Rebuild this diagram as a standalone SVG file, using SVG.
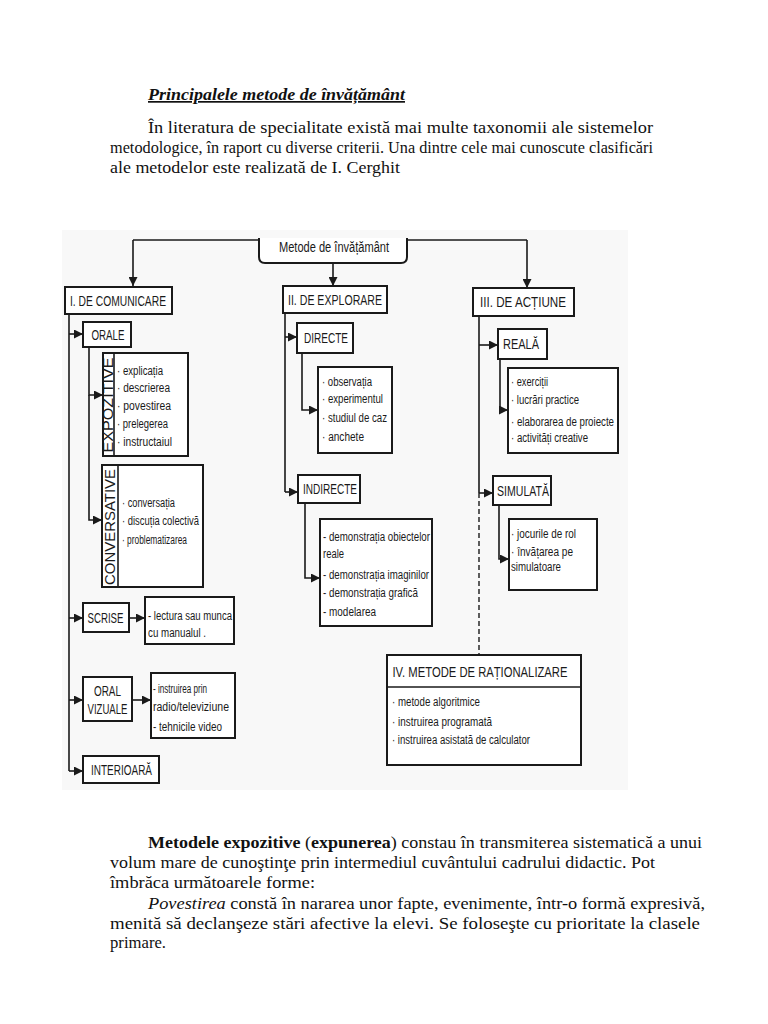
<svg xmlns="http://www.w3.org/2000/svg" width="768" height="1024" viewBox="0 0 768 1024">
<defs>
<marker id="ah" viewBox="0 0 10 10" refX="10" refY="5" markerWidth="9" markerHeight="9" markerUnits="userSpaceOnUse" orient="auto">
<path d="M0,0 L10,5 L0,10 z" fill="#1a1a1a"/>
</marker>
</defs>
<style>
.pg{font-family:"Liberation Serif","Times New Roman",serif;font-size:17px;fill:#111}
.box{fill:#fff;stroke:#1a1a1a;stroke-width:2}
.ln{fill:none;stroke:#1a1a1a;stroke-width:1.6}
.ar{fill:none;stroke:#1a1a1a;stroke-width:1.6;marker-end:url(#ah)}
.dash{fill:none;stroke:#1a1a1a;stroke-width:1.4;stroke-dasharray:5 3}
.lb{font-family:"Liberation Sans","Arial",sans-serif;font-size:14px;fill:#1a1a1a;text-anchor:middle}
.it{font-family:"Liberation Sans","Arial",sans-serif;font-size:12px;fill:#1a1a1a}
</style>
<rect width="768" height="1024" fill="#fff"/>

<g id="header-text">
<text class="pg" x="148" y="100" font-weight="bold" font-style="italic" font-size="16" text-decoration="underline" textLength="257" lengthAdjust="spacingAndGlyphs">Principalele metode de învățământ</text>
<text class="pg" x="148" y="133" textLength="505" lengthAdjust="spacingAndGlyphs">În literatura de specialitate există mai multe taxonomii ale sistemelor</text>
<text class="pg" x="110" y="153" textLength="543" lengthAdjust="spacingAndGlyphs">metodologice, în raport cu diverse criterii. Una dintre cele mai cunoscute clasificări</text>
<text class="pg" x="110" y="173" textLength="290" lengthAdjust="spacingAndGlyphs">ale metodelor este realizată de I. Cerghit</text>
</g>

<rect x="62" y="230" width="566" height="560" fill="#f8f8f8"/>

<g id="connectors">
<path class="ln" d="M133,240 H259 M407,240 H527"/>
<path class="ar" d="M133,240 V286"/>
<path class="ar" d="M333,263 V286"/>
<path class="ar" d="M527,240 V288"/>
<path class="ln" d="M69,314 V771"/>
<path class="ar" d="M69,334 H83"/>
<path class="ar" d="M69,618 H83"/>
<path class="ar" d="M69,700 H83"/>
<path class="ar" d="M69,771 H83"/>
<path class="ar" d="M89,347 V395 H103"/>
<path class="ar" d="M89,395 V520 H102"/>
<path class="ar" d="M129,618 H145"/>
<path class="ar" d="M132,700 H151"/>
<path class="ln" d="M285,313 V492"/>
<path class="ar" d="M285,337 H297"/>
<path class="ar" d="M285,492 H298"/>
<path class="ar" d="M302,353 V410 H318"/>
<path class="ar" d="M305,503 V578 H320"/>
<path class="ln" d="M479,316 V493"/>
<path class="ar" d="M479,345 H498"/>
<path class="ar" d="M479,493 H493"/>
<path class="dash" d="M479,493 V655"/>
<path class="ar" d="M500,359 V410 H508"/>
<path class="ar" d="M499,505 V559 H509"/>
</g>

<g id="n-root">
<path class="box" d="M259,238 V257 Q259,263 265,263 H401 Q407,263 407,257 V238"/>
<text class="lb" x="334" y="252" font-size="12" textLength="110" lengthAdjust="spacingAndGlyphs">Metode de învățământ</text>
</g>

<g id="n-comunicare">
<rect class="box" x="65" y="287" width="107" height="27"/>
<text class="lb" x="118" y="306" textLength="96" lengthAdjust="spacingAndGlyphs">I. DE COMUNICARE</text>
</g>
<g id="n-explorare">
<rect class="box" x="283" y="286" width="104" height="27"/>
<text class="lb" x="335" y="305" textLength="94" lengthAdjust="spacingAndGlyphs">II. DE EXPLORARE</text>
</g>
<g id="n-actiune">
<rect class="box" x="473" y="288" width="101" height="28"/>
<text class="lb" x="523" y="307" textLength="86" lengthAdjust="spacingAndGlyphs">III. DE ACȚIUNE</text>
</g>

<g id="n-orale">
<rect class="box" x="83" y="322" width="48" height="25"/>
<text class="lb" x="108" y="339.5" font-size="13" textLength="33" lengthAdjust="spacingAndGlyphs">ORALE</text>
</g>
<g id="n-expozitive">
<rect class="box" x="103" y="353" width="85" height="103"/>
<line class="ln" x1="114" y1="353" x2="114" y2="456"/>
<text class="lb" font-size="12" transform="translate(113,405) rotate(-90)" textLength="95" lengthAdjust="spacingAndGlyphs">EXPOZITIVE</text>
<text class="it" x="117" y="375" textLength="46" lengthAdjust="spacingAndGlyphs">· explicația</text>
<text class="it" x="117" y="392" textLength="53" lengthAdjust="spacingAndGlyphs">· descrierea</text>
<text class="it" x="117" y="410" textLength="54" lengthAdjust="spacingAndGlyphs">· povestirea</text>
<text class="it" x="117" y="428" textLength="51" lengthAdjust="spacingAndGlyphs">· prelegerea</text>
<text class="it" x="117" y="446" textLength="55" lengthAdjust="spacingAndGlyphs">· instructaiul</text>
</g>
<g id="n-conversative">
<rect class="box" x="102" y="465" width="101" height="122"/>
<line class="ln" x1="118" y1="465" x2="118" y2="587"/>
<text class="lb" font-size="13" transform="translate(114.5,527) rotate(-90)" textLength="116" lengthAdjust="spacingAndGlyphs">CONVERSATIVE</text>
<text class="it" x="122" y="507" textLength="53" lengthAdjust="spacingAndGlyphs">· conversația</text>
<text class="it" x="122" y="525" textLength="77" lengthAdjust="spacingAndGlyphs">· discuția colectivă</text>
<text class="it" x="122" y="544" textLength="65" lengthAdjust="spacingAndGlyphs">· problematizarea</text>
</g>
<g id="n-scrise">
<rect class="box" x="83" y="603" width="46" height="29"/>
<text class="lb" x="105.5" y="622.5" font-size="13" textLength="36" lengthAdjust="spacingAndGlyphs">SCRISE</text>
</g>
<g id="n-scrise-items">
<rect class="box" x="145" y="597" width="89" height="47"/>
<text class="it" x="148" y="620" textLength="84" lengthAdjust="spacingAndGlyphs">- lectura sau munca</text>
<text class="it" x="148" y="637" textLength="58" lengthAdjust="spacingAndGlyphs">cu manualul .</text>
</g>
<g id="n-oralvizuale">
<rect class="box" x="83" y="677" width="49" height="44"/>
<text class="lb" x="107.5" y="696" font-size="13" textLength="27" lengthAdjust="spacingAndGlyphs">ORAL</text>
<text class="lb" x="107.5" y="714" font-size="13" textLength="40" lengthAdjust="spacingAndGlyphs">VIZUALE</text>
</g>
<g id="n-oralvizuale-items">
<rect class="box" x="151" y="673" width="84" height="65"/>
<text class="it" x="153" y="693" textLength="54" lengthAdjust="spacingAndGlyphs">- instruirea prin</text>
<text class="it" x="153" y="711" textLength="76" lengthAdjust="spacingAndGlyphs">radio/televiziune</text>
<text class="it" x="153" y="731" textLength="69" lengthAdjust="spacingAndGlyphs">- tehnicile video</text>
</g>
<g id="n-interioara">
<rect class="box" x="83" y="756" width="76" height="27"/>
<text class="lb" x="121.5" y="774.5" font-size="13" textLength="61" lengthAdjust="spacingAndGlyphs">INTERIOARĂ</text>
</g>

<g id="n-directe">
<rect class="box" x="297" y="323" width="56" height="30"/>
<text class="lb" x="326" y="342.5" font-size="13" textLength="44" lengthAdjust="spacingAndGlyphs">DIRECTE</text>
</g>
<g id="n-directe-items">
<rect class="box" x="318" y="367" width="74" height="86"/>
<text class="it" x="322" y="386" textLength="50" lengthAdjust="spacingAndGlyphs">· observația</text>
<text class="it" x="322" y="403" textLength="61" lengthAdjust="spacingAndGlyphs">· experimentul</text>
<text class="it" x="322" y="422" textLength="65" lengthAdjust="spacingAndGlyphs">· studiul de caz</text>
<text class="it" x="322" y="441" textLength="42" lengthAdjust="spacingAndGlyphs">· anchete</text>
</g>
<g id="n-indirecte">
<rect class="box" x="298" y="475" width="62" height="28"/>
<text class="lb" x="330" y="494" font-size="13" textLength="54" lengthAdjust="spacingAndGlyphs">INDIRECTE</text>
</g>
<g id="n-indirecte-items">
<rect class="box" x="320" y="519" width="112" height="107"/>
<text class="it" x="323" y="541" textLength="107" lengthAdjust="spacingAndGlyphs">- demonstrația obiectelor</text>
<text class="it" x="323" y="558" textLength="21" lengthAdjust="spacingAndGlyphs">reale</text>
<text class="it" x="323" y="579" textLength="106" lengthAdjust="spacingAndGlyphs">- demonstrația imaginilor</text>
<text class="it" x="323" y="597" textLength="95" lengthAdjust="spacingAndGlyphs">- demonstrația grafică</text>
<text class="it" x="323" y="616" textLength="53" lengthAdjust="spacingAndGlyphs">- modelarea</text>
</g>

<g id="n-reala">
<rect class="box" x="498" y="329" width="49" height="30"/>
<text class="lb" x="521" y="349" font-size="13" textLength="36" lengthAdjust="spacingAndGlyphs">REALĂ</text>
</g>
<g id="n-reala-items">
<rect class="box" x="508" y="368" width="110" height="85"/>
<text class="it" x="511" y="386" textLength="37" lengthAdjust="spacingAndGlyphs">· exerciții</text>
<text class="it" x="511" y="404" textLength="68" lengthAdjust="spacingAndGlyphs">· lucrări practice</text>
<text class="it" x="511" y="426" textLength="103" lengthAdjust="spacingAndGlyphs">· elaborarea de proiecte</text>
<text class="it" x="511" y="442" textLength="77" lengthAdjust="spacingAndGlyphs">· activități creative</text>
</g>
<g id="n-simulata">
<rect class="box" x="493" y="476" width="58" height="29"/>
<text class="lb" x="523" y="495.5" font-size="13" textLength="52" lengthAdjust="spacingAndGlyphs">SIMULATĂ</text>
</g>
<g id="n-simulata-items">
<rect class="box" x="509" y="519" width="88" height="71"/>
<text class="it" x="511" y="538" textLength="65" lengthAdjust="spacingAndGlyphs">· jocurile de rol</text>
<text class="it" x="511" y="556" textLength="62" lengthAdjust="spacingAndGlyphs">· învățarea pe</text>
<text class="it" x="511" y="571" textLength="50" lengthAdjust="spacingAndGlyphs">simulatoare</text>
</g>

<g id="n-rationalizare">
<rect class="box" x="387" y="655" width="194" height="110"/>
<line class="ln" x1="387" y1="687" x2="581" y2="687"/>
<text class="lb" x="480" y="676.5" font-size="15" textLength="175" lengthAdjust="spacingAndGlyphs">IV. METODE DE RAȚIONALIZARE</text>
<text class="it" x="392" y="706" textLength="88" lengthAdjust="spacingAndGlyphs">· metode algoritmice</text>
<text class="it" x="392" y="726" textLength="100" lengthAdjust="spacingAndGlyphs">· instruirea programată</text>
<text class="it" x="392" y="744" textLength="138" lengthAdjust="spacingAndGlyphs">· instruirea asistată de calculator</text>
</g>

<g id="footer-text">
<text class="pg" x="148" y="848" textLength="554" lengthAdjust="spacingAndGlyphs"><tspan font-weight="bold">Metodele expozitive</tspan> (<tspan font-weight="bold">expunerea</tspan>) constau în transmiterea sistematică a unui</text>
<text class="pg" x="110" y="868" textLength="545" lengthAdjust="spacingAndGlyphs">volum mare de cunoştinţe prin intermediul cuvântului cadrului didactic. Pot</text>
<text class="pg" x="110" y="888" textLength="205" lengthAdjust="spacingAndGlyphs">îmbrăca următoarele forme:</text>
<text class="pg" x="148" y="909" textLength="557" lengthAdjust="spacingAndGlyphs"><tspan font-style="italic">Povestirea</tspan> constă în nararea unor fapte, evenimente, într-o formă expresivă,</text>
<text class="pg" x="110" y="929" textLength="590" lengthAdjust="spacingAndGlyphs">menită să declanşeze stări afective la elevi. Se foloseşte cu prioritate la clasele</text>
<text class="pg" x="110" y="948" textLength="56" lengthAdjust="spacingAndGlyphs">primare.</text>
</g>
</svg>
